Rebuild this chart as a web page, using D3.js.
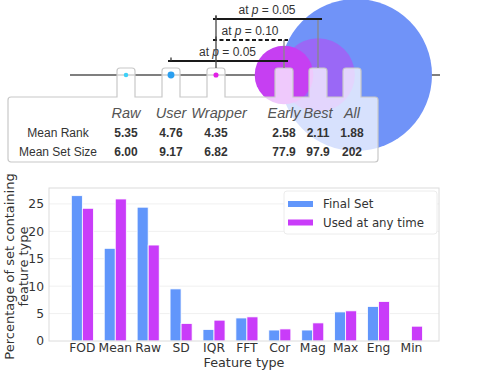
<!DOCTYPE html>
<html>
<head>
<meta charset="utf-8">
<script src="https://cdn.jsdelivr.net/npm/d3@7"></script>
<style>
  body { margin: 0; background: #fff; }
  svg { display: block; }
</style>
</head>
<body>
<svg id="chart" width="487" height="384"></svg>
<script>
// ---- data ----
const baselineMethods = ["Raw", "User", "Wrapper"];
const selectionMethods = ["Early", "Best", "All"];
const methods = baselineMethods.concat(selectionMethods);
const meanRank = [5.35, 4.76, 4.35, 2.58, 2.11, 1.88];
const meanSetSize = [6.00, 9.17, 6.82, 77.9, 97.9, 202];
const methodColors = ["#3fd0f7", "#2a9ff0", "#e21fe6", "#c63ff2", "#9a68f6", "#7093f8"];

const sigTests = [
  { from: "Wrapper", to: "Best", p: 0.05 },
  { from: "Wrapper", to: "Early", p: 0.10 },
  { from: "User", to: "Early", p: 0.05 }
];

const features = ["FOD", "Mean", "Raw", "SD", "IQR", "FFT", "Cor", "Mag", "Max", "Eng", "Min"];
const finalSet = [26.5, 16.9, 24.4, 9.5, 2.1, 4.2, 2.0, 2.0, 5.3, 6.3, 0];
const usedAnyTime = [24.2, 25.9, 17.5, 3.2, 3.8, 4.4, 2.2, 3.3, 5.5, 7.2, 2.7];
const seriesNames = ["Final Set", "Used at any time"];
const seriesColors = ["#6196fb", "#c93cf9"];
const yTicks = [0, 5, 10, 15, 20, 25];

const svg = d3.select("#chart");

// ---- top: method comparison ----
const helv = "'Liberation Sans', Arial, sans-serif";
const lineY = 75, tabTop = 68, tabW = 18;
const panel = { x0: 8, x1: 378, y0: 97, y1: 162 };

const xBase = d3.scalePoint().domain(baselineMethods).range([126, 216]);
const xSel = d3.scalePoint().domain(selectionMethods).range([284, 352]);
const mx = m => baselineMethods.includes(m) ? xBase(m) : xSel(m);
const r = d3.scaleLinear().domain([0, 202]).range([0, 76]);

const topG = svg.append("g");

topG.append("line")
  .attr("x1", 70).attr("x2", 440)
  .attr("y1", lineY).attr("y2", lineY)
  .attr("stroke", "#555").attr("stroke-width", 1.6);

const bigIdx = d3.range(methods.length).filter(i => meanSetSize[i] > 50)
  .sort((a, b) => meanSetSize[b] - meanSetSize[a]);
topG.selectAll("circle.big")
  .data(bigIdx)
  .join("circle")
  .attr("class", "big")
  .attr("cx", i => mx(methods[i]) + (methods[i] === "All" ? 4 : 0))
  .attr("cy", lineY)
  .attr("r", i => r(meanSetSize[i]))
  .attr("fill", i => methodColors[i]);

// panel with tabs as one outline
const pth = d3.path();
const cr = 3;
pth.moveTo(panel.x0, panel.y0 + cr);
pth.arcTo(panel.x0, panel.y0, panel.x0 + cr, panel.y0, cr);
methods.forEach(m => {
  const a = mx(m) - tabW / 2, b = mx(m) + tabW / 2;
  pth.lineTo(a, panel.y0);
  pth.lineTo(a, tabTop + cr);
  pth.arcTo(a, tabTop, a + cr, tabTop, cr);
  pth.lineTo(b - cr, tabTop);
  pth.arcTo(b, tabTop, b, tabTop + cr, cr);
  pth.lineTo(b, panel.y0);
});
pth.lineTo(panel.x1 - cr, panel.y0);
pth.arcTo(panel.x1, panel.y0, panel.x1, panel.y0 + cr, cr);
pth.lineTo(panel.x1, panel.y1 - cr);
pth.arcTo(panel.x1, panel.y1, panel.x1 - cr, panel.y1, cr);
pth.lineTo(panel.x0 + cr, panel.y1);
pth.arcTo(panel.x0, panel.y1, panel.x0, panel.y1 - cr, cr);
pth.closePath();

topG.append("path")
  .attr("d", pth.toString())
  .attr("fill", "#fff").attr("fill-opacity", 0.72)
  .attr("stroke", "#c8c8c8").attr("stroke-width", 1.2);

const smallIdx = d3.range(methods.length).filter(i => meanSetSize[i] <= 50);
topG.selectAll("circle.small")
  .data(smallIdx)
  .join("circle")
  .attr("class", "small")
  .attr("cx", i => mx(methods[i]))
  .attr("cy", lineY)
  .attr("r", i => r(meanSetSize[i]))
  .attr("fill", i => methodColors[i]);

// significance brackets
const levelY = d3.scaleLinear().domain([0, 1]).range([19, 40]);
const fromCount = d3.rollup(sigTests, v => v.length, d => d.from);
sigTests.forEach((t, k) => {
  const ly = levelY(k);
  const xa = mx(t.from), xb = mx(t.to);
  topG.append("line")
    .attr("x1", xb).attr("x2", xb).attr("y1", ly).attr("y2", tabTop)
    .attr("stroke", "#888").attr("stroke-width", 1.3);
  topG.append("line")
    .attr("x1", xa - 3).attr("x2", xb + 4).attr("y1", ly).attr("y2", ly)
    .attr("stroke", "#1a1a1a").attr("stroke-width", 2)
    .attr("stroke-dasharray", t.p > 0.05 ? "4,2.5" : null);
  topG.append("line")
    .attr("x1", xa).attr("x2", xa).attr("y1", ly - 3.5).attr("y2", ly)
    .attr("stroke", "#333").attr("stroke-width", 1.3);
  const txt = topG.append("text")
    .attr("x", (xa + xb) / 2).attr("y", ly - 5.5)
    .attr("text-anchor", "middle")
    .attr("font-family", helv).attr("font-size", 12).attr("fill", "#333");
  txt.append("tspan").text("at ");
  txt.append("tspan").attr("font-style", "italic").text("p");
  txt.append("tspan").text(" = " + t.p.toFixed(2));
});
fromCount.forEach((n, m) => {
  if (n < 2) return;
  const ks = sigTests.map((t, k) => t.from === m ? k : null).filter(k => k !== null);
  topG.append("line")
    .attr("x1", mx(m)).attr("x2", mx(m))
    .attr("y1", levelY(d3.min(ks)) - 3.5).attr("y2", tabTop)
    .attr("stroke", "#444").attr("stroke-width", 1.3);
});

// table
const fmt = d3.format(".3r");
topG.selectAll("text.head")
  .data(methods)
  .join("text")
  .attr("class", "head")
  .attr("x", m => mx(m) + (m === "Wrapper" ? 3 : 0))
  .attr("y", 118)
  .attr("text-anchor", "middle")
  .attr("font-family", helv).attr("font-style", "italic")
  .attr("font-size", 14.5).attr("fill", "#555")
  .text(m => m);

const rows = [
  { label: "Mean Rank", values: meanRank, y: 137 },
  { label: "Mean Set Size", values: meanSetSize, y: 156 }
];
rows.forEach(row => {
  topG.append("text")
    .attr("x", 58).attr("y", row.y)
    .attr("text-anchor", "middle")
    .attr("font-family", helv).attr("font-size", 12).attr("fill", "#333")
    .text(row.label);
  topG.selectAll(null)
    .data(row.values)
    .join("text")
    .attr("x", (v, i) => mx(methods[i]))
    .attr("y", row.y)
    .attr("text-anchor", "middle")
    .attr("font-family", helv).attr("font-weight", "bold")
    .attr("font-size", 12).attr("fill", "#333")
    .text(v => fmt(v));
});

// ---- bottom: bar chart ----
const dv = "'DejaVu Sans', sans-serif";
const plot = { x0: 49, x1: 439, y0: 188, y1: 341 };

const x = d3.scaleBand().domain(features)
  .range([plot.x0, plot.x1])
  .paddingInner(0.33).paddingOuter(0.59).align(0.575);
const xSub = d3.scaleBand().domain(seriesNames).range([0, x.bandwidth()]);
const y = d3.scaleLinear().domain([0, 27.9]).range([plot.y1, plot.y0]);

const chart = svg.append("g");

chart.append("g")
  .selectAll("line")
  .data(yTicks.filter(t => t > 0))
  .join("line")
  .attr("x1", plot.x0).attr("x2", plot.x1)
  .attr("y1", d => y(d)).attr("y2", d => y(d))
  .attr("stroke", "#f0f0f0").attr("stroke-width", 1);

const barData = [];
features.forEach((f, i) => {
  barData.push({ f, s: seriesNames[0], v: finalSet[i], c: seriesColors[0] });
  barData.push({ f, s: seriesNames[1], v: usedAnyTime[i], c: seriesColors[1] });
});
chart.append("g")
  .selectAll("rect")
  .data(barData.filter(d => d.v > 0))
  .join("rect")
  .attr("x", d => x(d.f) + xSub(d.s))
  .attr("width", xSub.bandwidth())
  .attr("y", d => y(d.v))
  .attr("height", d => y(0) - y(d.v))
  .attr("fill", d => d.c)
  .attr("stroke", "#fff").attr("stroke-width", 0.8);

chart.append("rect")
  .attr("x", plot.x0).attr("y", plot.y0)
  .attr("width", plot.x1 - plot.x0).attr("height", plot.y1 - plot.y0)
  .attr("fill", "none").attr("stroke", "#dcdcdc").attr("stroke-width", 1);

const yAxis = chart.append("g")
  .attr("transform", `translate(${plot.x0},0)`)
  .call(d3.axisLeft(y).tickValues(yTicks).tickSize(0).tickPadding(5));
yAxis.select(".domain").remove();
yAxis.selectAll("text")
  .attr("font-family", dv).attr("font-size", 12.3).attr("fill", "#333");

const xAxis = chart.append("g")
  .attr("transform", `translate(0,${plot.y1})`)
  .call(d3.axisBottom(x).tickSize(0).tickPadding(2));
xAxis.select(".domain").remove();
xAxis.selectAll("text")
  .attr("font-family", dv).attr("font-size", 12.3).attr("fill", "#333");

chart.append("text")
  .attr("x", (plot.x0 + plot.x1) / 2).attr("y", 367)
  .attr("text-anchor", "middle")
  .attr("font-family", dv).attr("font-size", 12.8).attr("fill", "#333")
  .text("Feature type");

const yLab = chart.append("text")
  .attr("transform", `translate(14,${(plot.y0 + plot.y1) / 2 + 2}) rotate(-90)`)
  .attr("text-anchor", "middle")
  .attr("font-family", dv).attr("font-size", 13).attr("fill", "#333");
yLab.append("tspan").attr("x", 0).attr("dy", 0).text("Percentage of set containing");
yLab.append("tspan").attr("x", 0).attr("dy", 14).text("feature type");

// legend
const lg = chart.append("g");
lg.append("rect")
  .attr("x", 284).attr("y", 191).attr("width", 153).attr("height", 43)
  .attr("rx", 3)
  .attr("fill", "#fff").attr("stroke", "#ececec");
seriesNames.forEach((s, i) => {
  const ly = 204 + i * 18.5;
  lg.append("rect")
    .attr("x", 288).attr("y", ly - 3).attr("width", 25).attr("height", 6)
    .attr("fill", seriesColors[i]);
  lg.append("text")
    .attr("x", 323).attr("y", ly + 4.3)
    .attr("font-family", dv).attr("font-size", 11.8).attr("fill", "#333")
    .text(s);
});
</script>
</body>
</html>
